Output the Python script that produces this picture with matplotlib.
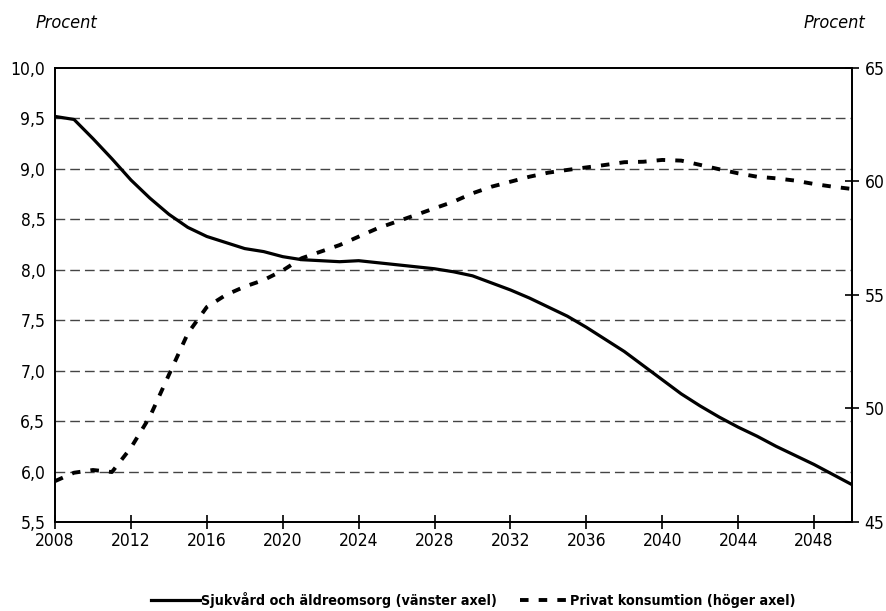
import matplotlib
matplotlib.use("Agg")
import matplotlib.pyplot as plt
from matplotlib.lines import Line2D
from matplotlib import font_manager as fm

years = list(range(2008, 2051))
health_care = [9.52, 9.49, 9.30, 9.10, 8.89, 8.71, 8.55, 8.42, 8.33, 8.27, 8.21,
               8.18, 8.13, 8.10, 8.09, 8.08, 8.09, 8.07, 8.05, 8.03, 8.01, 7.98,
               7.94, 7.87, 7.80, 7.72, 7.63, 7.54, 7.43, 7.31, 7.19, 7.05, 6.91,
               6.77, 6.65, 6.54, 6.44, 6.35, 6.25, 6.16, 6.07, 5.97, 5.87]
private_consumption = [46.8, 47.17, 47.29, 47.2, 48.27, 49.64, 51.48, 53.31, 54.47,
                       55.0, 55.37, 55.66, 56.08, 56.62, 56.91, 57.20, 57.57, 57.94,
                       58.23, 58.52, 58.82, 59.11, 59.48, 59.77, 59.99, 60.21, 60.39,
                       60.51, 60.62, 60.73, 60.85, 60.87, 60.95, 60.92, 60.73, 60.54,
                       60.36, 60.21, 60.14, 60.04, 59.89, 59.77, 59.67]
left_ticks = [5.5, 6.0, 6.5, 7.0, 7.5, 8.0, 8.5, 9.0, 9.5, 10.0]
right_ticks = [45, 50, 55, 60, 65]
x_ticks = list(range(2008, 2050, 4))
label_health = "Sjukvård och äldreomsorg (vänster axel)"
label_private = "Privat konsumtion (höger axel)"

# use a condensed face if one is installed (the original uses a condensed font)
family, stretch = "Roboto", "normal"
fs_tick, fs_leg, fs_title = 11.5, 10.0, 12
for f in fm.fontManager.ttflist:
    if f.stretch in ("condensed", "semi-condensed", "extra-condensed") or \
            "Condensed" in f.name or "Narrow" in f.name:
        family, stretch = f.name, f.stretch
        fs_tick, fs_leg, fs_title = 12.5, 10.3, 13
        break
plt.rcParams["font.family"] = [family, "DejaVu Sans"]
plt.rcParams["font.stretch"] = stretch

fig = plt.figure(figsize=(8.86, 6.11), dpi=100)
ax = fig.add_axes([0.0621, 0.1457, 0.8995, 0.743])
ax2 = ax.twinx()

ax.set_xlim(2008, 2050)
ax.set_ylim(5.5, 10.0)
ax2.set_ylim(45, 65)

for v in left_ticks[1:-1]:
    ax.axhline(v, color="#444444", lw=1.0, dashes=(7, 3.6), zorder=1)

ax.plot(years, health_care, color="black", lw=2.3, solid_joinstyle="round", zorder=3)
ax2.plot(years, private_consumption, color="black", lw=2.8, dashes=(2.2, 2.6), zorder=3)

ax.set_yticks(left_ticks)
ax.set_yticklabels([f"{v:.1f}".replace(".", ",") for v in left_ticks])
ax2.set_yticks(right_ticks)
ax2.set_yticklabels([str(v) for v in right_ticks])
ax.set_xticks(x_ticks)
ax.set_xticklabels([str(v) for v in x_ticks])

for a in (ax, ax2):
    for s in a.spines.values():
        s.set_linewidth(1.3)
        s.set_color("black")
ax.tick_params(axis="x", direction="inout", length=10, width=1.2, labelsize=fs_tick, pad=2)
ax.tick_params(axis="y", direction="inout", length=0, labelsize=fs_tick, pad=7)
ax2.tick_params(axis="y", direction="inout", length=10, width=1.2, labelsize=fs_tick, pad=4)

fig.text(0.040, 0.962, "Procent", style="italic", fontsize=fs_title, ha="left", va="center")
fig.text(0.977, 0.962, "Procent", style="italic", fontsize=fs_title, ha="right", va="center")

handles = [Line2D([], [], color="black", lw=2.3),
           Line2D([], [], color="black", lw=2.8, dashes=(2.2, 2.6))]
fig.legend(handles, [label_health, label_private], loc="center",
           bbox_to_anchor=(0.534, 0.018), ncol=2, frameon=False,
           prop={"weight": "bold", "size": fs_leg}, handlelength=3.4,
           handletextpad=0.1, columnspacing=1.6)

fig.savefig("out.png", dpi=100)
